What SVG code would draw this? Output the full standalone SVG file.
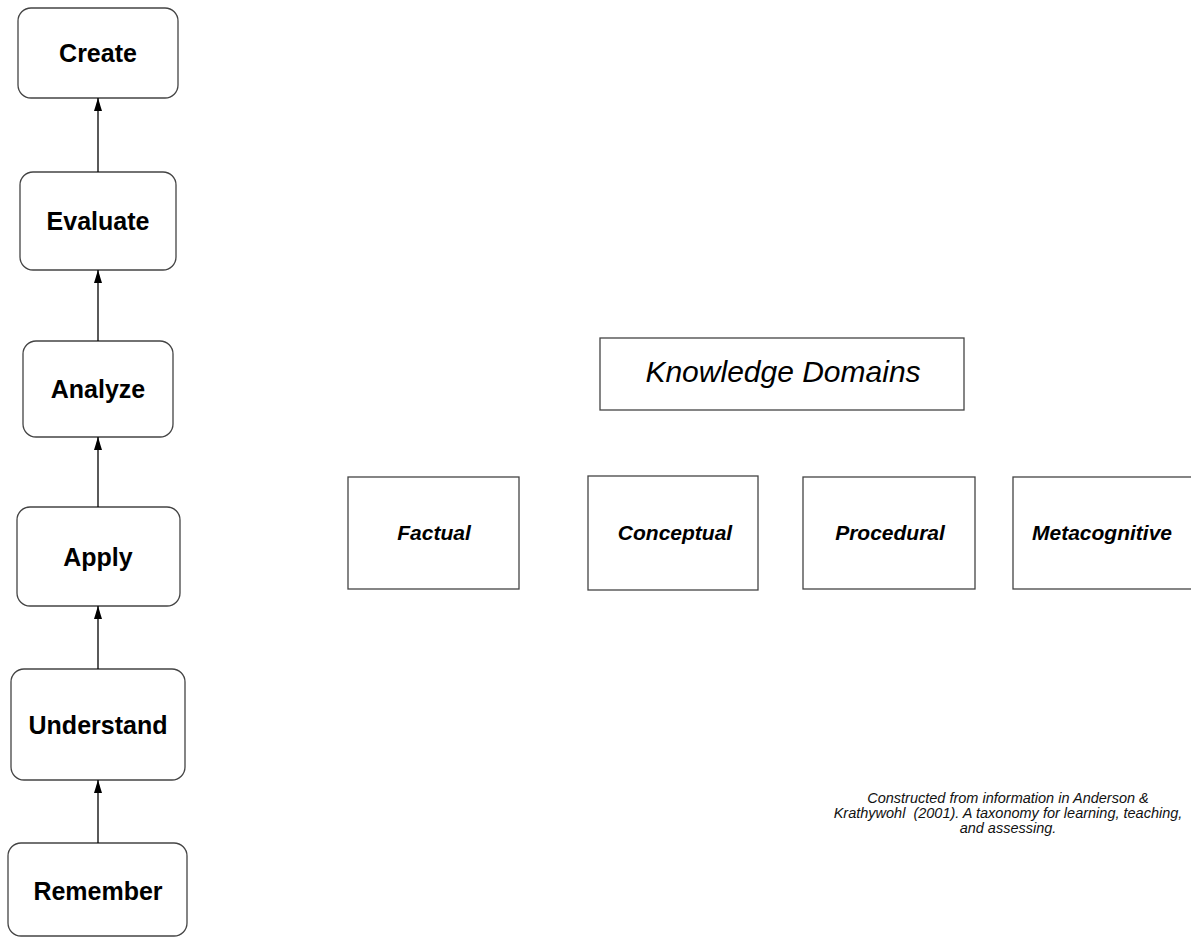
<svg xmlns="http://www.w3.org/2000/svg" width="1191" height="940" viewBox="0 0 1191 940">
  <style>
    .level { fill: #ffffff; stroke: #444444; stroke-width: 1.3; }
    .domain { fill: #ffffff; stroke: #444444; stroke-width: 1.3; }
    .lvl-text { font-family: "Liberation Sans", Arial, sans-serif; font-size: 25px; font-weight: bold; fill: #000; text-anchor: middle; }
    .dom-text { font-family: "Liberation Sans", Arial, sans-serif; font-size: 21px; font-weight: bold; font-style: italic; fill: #000; text-anchor: middle; }
    .title-text { font-family: "Liberation Sans", Arial, sans-serif; font-size: 30px; font-style: italic; fill: #000; text-anchor: middle; }
    .note { font-family: "Liberation Sans", Arial, sans-serif; font-size: 14.5px; font-style: italic; fill: #111; text-anchor: middle; white-space: pre; }
    .conn { stroke: #000; stroke-width: 1.3; fill: none; marker-end: url(#arrow); }
  </style>
  <defs>
    <marker id="arrow" viewBox="0 0 10 10" refX="10" refY="5" markerWidth="13" markerHeight="8" markerUnits="userSpaceOnUse" orient="auto" preserveAspectRatio="none">
      <path d="M0,0 L10,5 L0,10 Z" fill="#000"/>
    </marker>
  </defs>
  <rect width="1191" height="940" fill="#ffffff"/>

  <!-- cognitive process levels -->
  <g id="create">
    <rect class="level" x="18" y="8" width="160" height="90" rx="13"/>
    <text class="lvl-text" x="98" y="62">Create</text>
  </g>
  <g id="evaluate">
    <rect class="level" x="20" y="172" width="156" height="98" rx="13"/>
    <text class="lvl-text" x="98" y="230">Evaluate</text>
  </g>
  <g id="analyze">
    <rect class="level" x="23" y="341" width="150" height="96" rx="13"/>
    <text class="lvl-text" x="98" y="398">Analyze</text>
  </g>
  <g id="apply">
    <rect class="level" x="17" y="507" width="163" height="99" rx="13"/>
    <text class="lvl-text" x="98" y="566">Apply</text>
  </g>
  <g id="understand">
    <rect class="level" x="11" y="669" width="174" height="111" rx="13"/>
    <text class="lvl-text" x="98" y="734">Understand</text>
  </g>
  <g id="remember">
    <rect class="level" x="8" y="843" width="179" height="93" rx="13"/>
    <text class="lvl-text" x="98" y="900">Remember</text>
  </g>

  <!-- upward connectors between levels -->
  <g id="connectors">
    <line class="conn" x1="98" y1="172" x2="98" y2="98"/>
    <line class="conn" x1="98" y1="341" x2="98" y2="270"/>
    <line class="conn" x1="98" y1="507" x2="98" y2="437"/>
    <line class="conn" x1="98" y1="669" x2="98" y2="606"/>
    <line class="conn" x1="98" y1="843" x2="98" y2="780"/>
  </g>

  <!-- knowledge dimension -->
  <g id="knowledge-domains">
    <rect class="domain" x="600" y="338" width="364" height="72"/>
    <text class="title-text" x="783" y="382">Knowledge Domains</text>
  </g>
  <g id="factual">
    <rect class="domain" x="348" y="477" width="171" height="112"/>
    <text class="dom-text" x="434" y="540">Factual</text>
  </g>
  <g id="conceptual">
    <rect class="domain" x="588" y="476" width="170" height="114"/>
    <text class="dom-text" x="675" y="540">Conceptual</text>
  </g>
  <g id="procedural">
    <rect class="domain" x="803" y="477" width="172" height="112"/>
    <text class="dom-text" x="890" y="540">Procedural</text>
  </g>
  <g id="metacognitive">
    <rect class="domain" x="1013" y="477" width="190" height="112"/>
    <text class="dom-text" x="1102" y="540">Metacognitive</text>
  </g>

  <!-- source note -->
  <g id="source-note">
    <text class="note" x="1008" y="803">Constructed from information in Anderson &amp;</text>
    <text class="note" x="1008" y="818" xml:space="preserve">Krathywohl  (2001). A taxonomy for learning, teaching,</text>
    <text class="note" x="1008" y="833">and assessing.</text>
  </g>
</svg>
